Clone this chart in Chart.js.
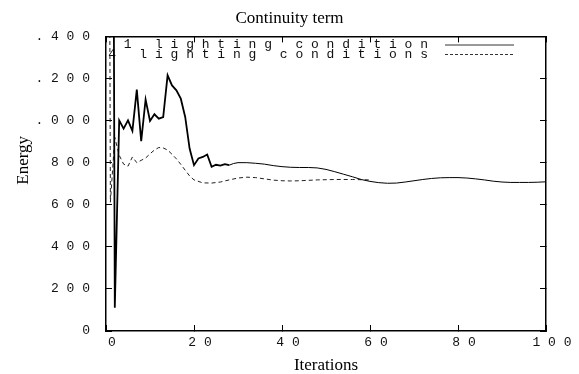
<!DOCTYPE html>
<html>
<head>
<meta charset="utf-8">
<script src="https://cdn.jsdelivr.net/npm/chart.js@4.4.1/dist/chart.umd.min.js"></script>
<style>
  html, body { margin: 0; padding: 0; background: #fff; }
  canvas { display: block; }
</style>
</head>
<body>
<canvas id="chart" width="579" height="374"></canvas>
<script>
// series names (legend)
const seriesNames = ['1 lighting condition', '4 lighting conditions'];

// 1 lighting condition (solid)
const solidIters = [0, 1, 2, 3, 4, 5, 6, 7, 8, 9, 10, 11, 12, 13, 14, 15, 16, 17, 18, 19, 20,
    21, 22, 23, 24, 25, 26, 27, 28, 29, 30, 32, 34, 36, 38, 40, 42, 44, 46, 48, 50,
    52, 54, 56, 58, 60, 62, 64, 66, 68, 70, 72, 74, 76, 78, 80, 82, 84, 86, 88, 90,
    92, 94, 96, 98, 100];
const solidEnergy = [9000, 6500, 110, 1001, 962, 1001, 951, 1147, 902, 1100, 998, 1030, 1009, 1017, 1215, 1167, 1144, 1104, 1017, 867, 788,
    820, 827, 839, 780, 790, 786, 793, 788, 796, 800, 800, 797, 793, 786, 781, 778, 777, 777, 775, 768,
    757, 745, 733, 720, 711, 705, 702, 703, 708, 714, 720, 725, 728, 729, 729, 727, 723, 718, 712, 708,
    706, 706, 706, 707, 709];

// 4 lighting conditions (dashed)
const dashIters = [0, 1, 2, 3, 4, 5, 6, 7, 8, 9, 10, 11, 12, 13, 14, 15, 16, 17, 18, 19, 20,
    22, 24, 26, 28, 30, 32, 34, 36, 38, 40, 42, 44, 46, 48, 50, 52, 54, 56, 58, 60];
const dashEnergy = [7000, 612, 920, 835, 793, 783, 827, 800, 811, 822, 842, 860, 872, 870, 860, 840, 818, 792, 764, 737, 718,
    704, 703, 708, 718, 727, 731, 729, 723, 717, 714, 713, 714, 716, 718, 719, 720, 720, 720, 719, 718];

// tick labels (the leading "1" of 1.000..1.400 is cut off in the original)
const xTickLabels = ['0', '20', '40', '60', '80', '100'];
const yTickLabels = ['0', '200', '400', '600', '800', '.000', '.200', '.400'];

// wide typewriter look of the original labels
function spaced(s) {
    return s.split('').join(' ');
}

function toPoints(xs, ys) {
    return xs.map((x, i) => ({ x: x, y: ys[i] }));
}

const monoFont = { family: '"Liberation Mono", "DejaVu Sans Mono", monospace', size: 13 };
const serifFont = { family: '"Liberation Serif", "DejaVu Serif", serif', size: 17, weight: 'normal', lineHeight: 1 };

// legend drawn inside the plot, text right aligned with the sample to its right
const insideLegend = {
    id: 'insideLegend',
    beforeDatasetsDraw(chart) {
        const { ctx, chartArea } = chart;
        ctx.save();
        ctx.font = '13px "Liberation Mono", monospace';
        ctx.textAlign = 'right';
        ctx.textBaseline = 'middle';
        chart.data.datasets.forEach((ds, i) => {
            const y = chartArea.top + 8.6 + i * 9.5;
            ctx.fillStyle = '#111';
            ctx.fillText(spaced(ds.label), chartArea.right - 118, y);
            ctx.strokeStyle = '#333';
            ctx.lineWidth = 1;
            ctx.setLineDash(ds.borderDash ? [3, 2] : []);
            ctx.beginPath();
            ctx.moveTo(chartArea.right - 101, y);
            ctx.lineTo(chartArea.right - 32, y);
            ctx.stroke();
        });
        ctx.restore();
    }
};

const tickGrid = { drawOnChartArea: false, tickLength: -6, color: '#000', lineWidth: 1 };
const frame = { color: '#000', width: 1.5 };

new Chart(document.getElementById('chart').getContext('2d'), {
    type: 'line',
    data: {
        datasets: [
            {
                label: seriesNames[0],
                data: toPoints(solidIters, solidEnergy),
                borderColor: '#000',
                borderWidth: 1.8,
                // the noisy start is drawn heavier than the smooth tail
                segment: { borderWidth: (c) => (c.p0.parsed.x >= 28 ? 1 : 1.8) },
                pointRadius: 0,
                tension: 0,
                fill: false
            },
            {
                label: seriesNames[1],
                data: toPoints(dashIters, dashEnergy),
                borderColor: '#222',
                borderWidth: 1,
                borderDash: [4, 3],
                pointRadius: 0,
                tension: 0,
                fill: false
            }
        ]
    },
    options: {
        responsive: false,
        devicePixelRatio: 1,
        animation: false,
        layout: { padding: 0 },
        plugins: {
            legend: { display: false },
            tooltip: { enabled: false },
            title: {
                display: true,
                text: 'Continuity term',
                color: '#000',
                font: { family: serifFont.family, size: 17, weight: 'normal' },
                padding: { top: 8, bottom: 8 }
            }
        },
        scales: {
            x: {
                type: 'linear',
                position: 'bottom',
                min: 0,
                max: 100,
                ticks: {
                    stepSize: 20,
                    autoSkip: false,
                    maxRotation: 0,
                    padding: 9.7,
                    labelOffset: 6,
                    color: '#111',
                    font: monoFont,
                    callback: (v) => spaced(xTickLabels[Math.round(v / 20)] ?? '')
                },
                grid: tickGrid,
                border: frame,
                title: { display: true, text: 'Iterations', color: '#000', font: serifFont, padding: 0 },
                afterFit: (s) => { s.height = 43; }
            },
            x2: {
                type: 'linear',
                position: 'top',
                min: 0,
                max: 100,
                ticks: { display: false, stepSize: 20 },
                grid: tickGrid,
                border: frame,
                afterFit: (s) => { s.height = 0; }
            },
            y: {
                type: 'linear',
                position: 'left',
                min: 0,
                max: 1400,
                ticks: {
                    stepSize: 200,
                    autoSkip: false,
                    padding: 22,
                    color: '#111',
                    font: monoFont,
                    callback: (v) => spaced(yTickLabels[Math.round(v / 200)] ?? '')
                },
                grid: tickGrid,
                border: frame,
                title: {
                    display: true,
                    // leading spaces lift the label above the axis centre like the original
                    text: '           Energy',
                    color: '#000',
                    font: serifFont,
                    padding: { top: 15.5, bottom: 0 }
                },
                afterFit: (s) => { s.width = 106; }
            },
            y2: {
                type: 'linear',
                position: 'right',
                min: 0,
                max: 1400,
                ticks: { display: false, stepSize: 200 },
                grid: tickGrid,
                border: frame,
                afterFit: (s) => { s.width = 33; }
            }
        }
    },
    plugins: [insideLegend]
});
</script>
</body>
</html>
